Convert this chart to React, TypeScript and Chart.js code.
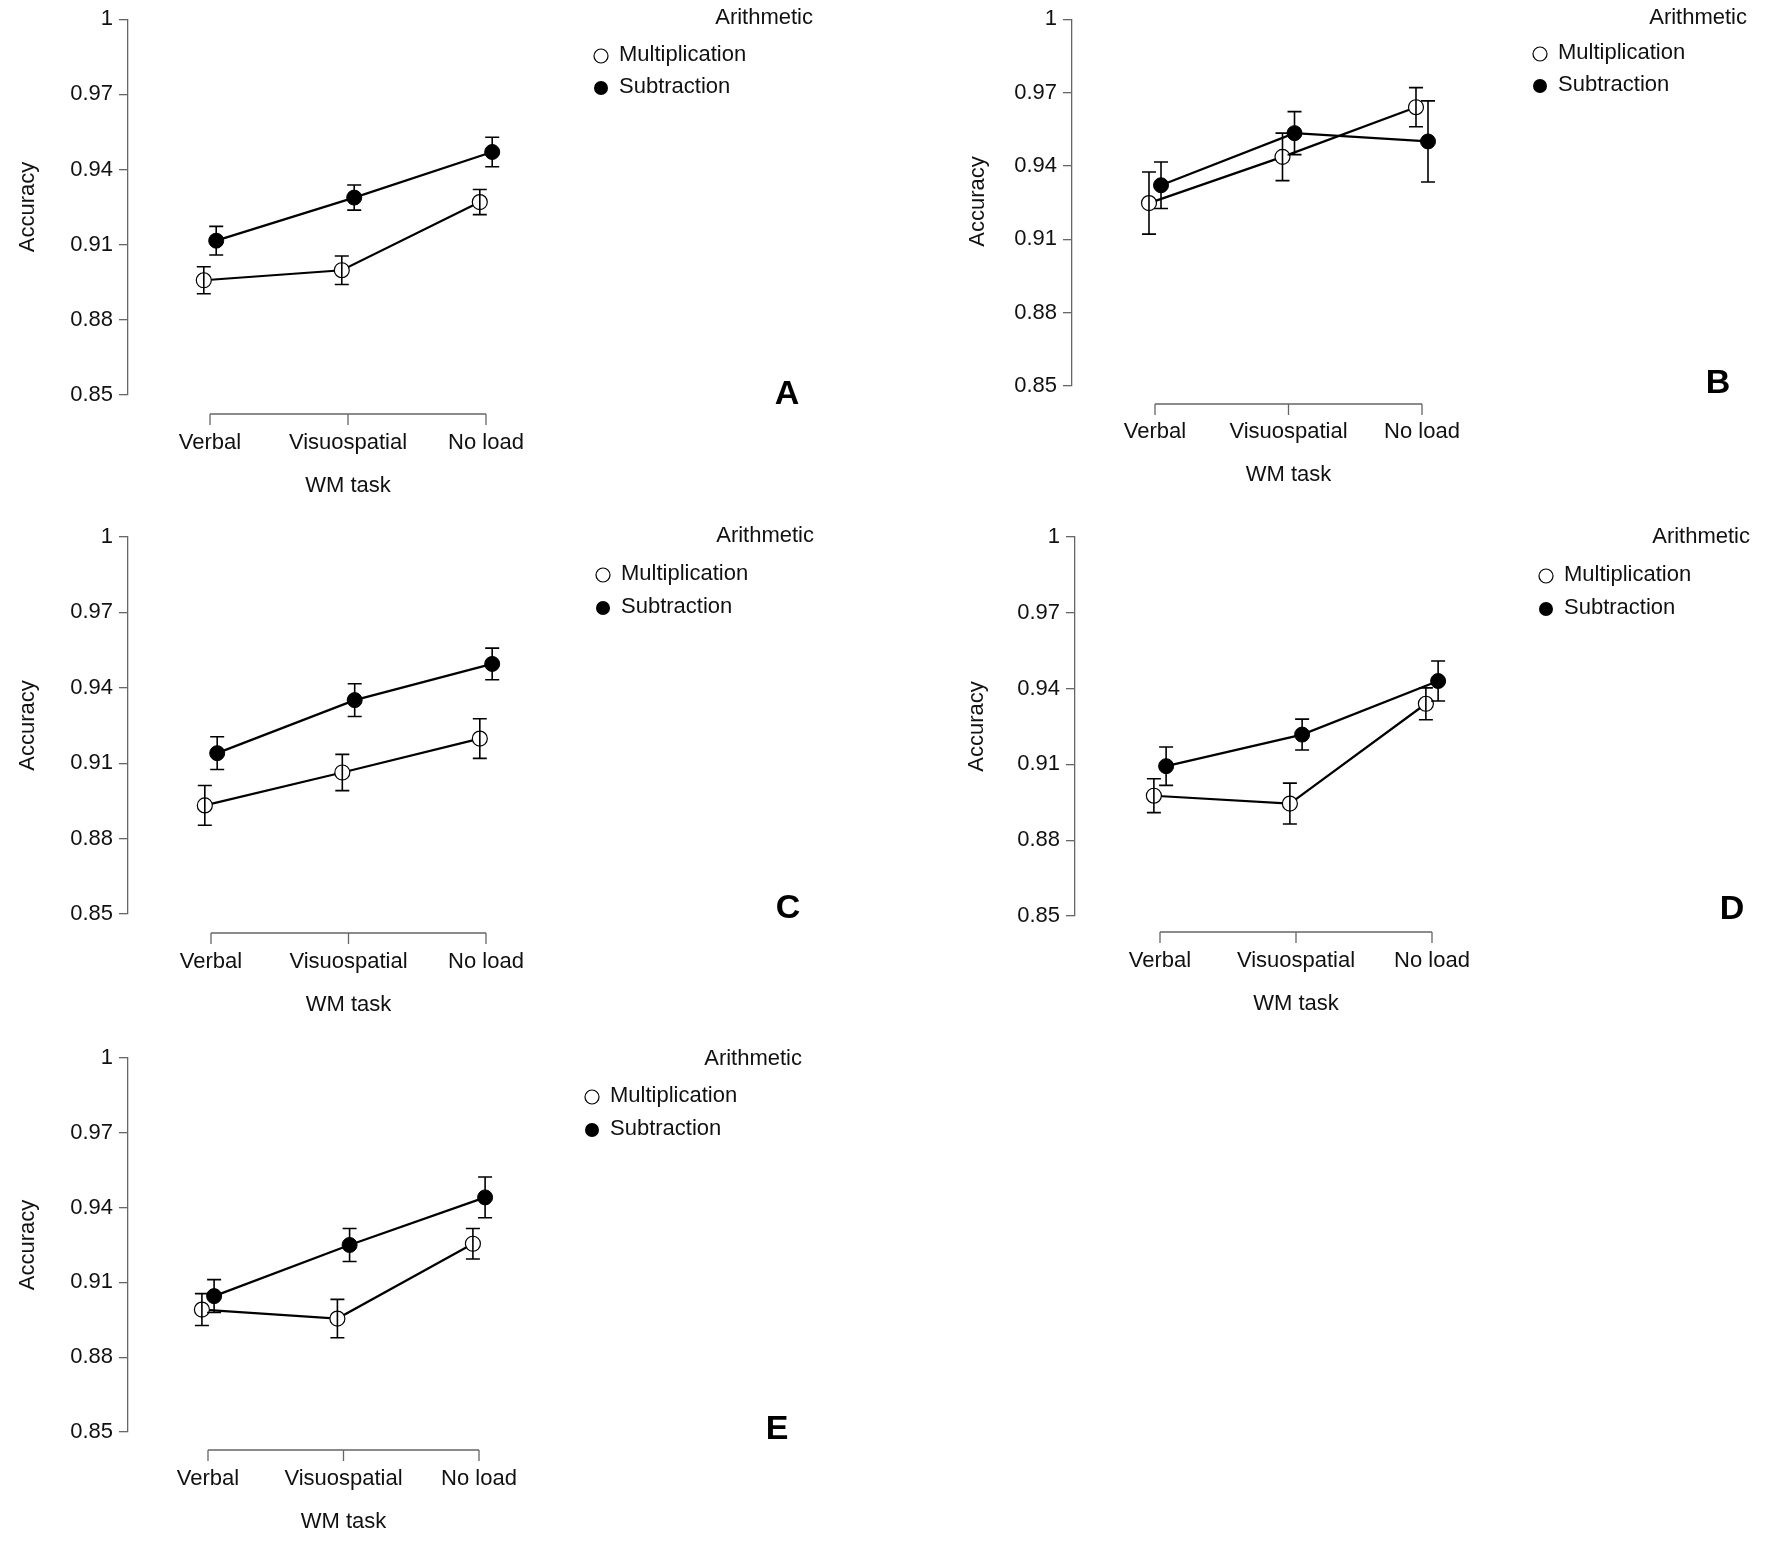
import React, { useEffect, useRef } from "react";
import { Chart, registerables } from "chart.js";
Chart.register(...registerables);

const categories = ["Verbal", "Visuospatial", "No load"];
const yTicks = [0.85, 0.88, 0.91, 0.94, 0.97, 1];

const multA = [0.8958, 0.8998, 0.927];
const multAErr = [0.0054, 0.0057, 0.005];
const subA = [0.9116, 0.9288, 0.947];
const subAErr = [0.0057, 0.005, 0.0059];

const multB = [0.9248, 0.9437, 0.964];
const multBErr = [0.0127, 0.0097, 0.008];
const subB = [0.9321, 0.9534, 0.95];
const subBErr = [0.0095, 0.0088, 0.0166];

const multC = [0.8932, 0.9063, 0.9198];
const multCErr = [0.0079, 0.0072, 0.0079];
const subC = [0.914, 0.9351, 0.9495];
const subCErr = [0.0065, 0.0065, 0.0063];

const multD = [0.8976, 0.8945, 0.934];
const multDErr = [0.0067, 0.0081, 0.0063];
const subD = [0.9093, 0.9218, 0.943];
const subDErr = [0.0076, 0.0061, 0.0079];

const multE = [0.8991, 0.8955, 0.9255];
const multEErr = [0.0064, 0.0077, 0.0061];
const subE = [0.9045, 0.925, 0.9441];
const subEErr = [0.0066, 0.0066, 0.0082];

const W = 1772, H = 1550;
const FONT = "'Liberation Sans', Arial, sans-serif";

const panels = [
  { letter: "A", mult: multA, multErr: multAErr, sub: subA, subErr: subAErr, axisX: 128, top: 19, bottom: 395, t0: 210, t2: 486, bracketY: 414, labelY: 443, wmY: 486, accX: 28, legRight: 813, arithY: 18, legX: 601, m1Y: 55, m2Y: 87, lx: 787, ly: 395 },
  { letter: "B", mult: multB, multErr: multBErr, sub: subB, subErr: subBErr, axisX: 1072, top: 17, bottom: 386, t0: 1155, t2: 1422, bracketY: 404, labelY: 432, wmY: 475, accX: 978, legRight: 1747, arithY: 18, legX: 1540, m1Y: 53, m2Y: 85, lx: 1718, ly: 384 },
  { letter: "C", mult: multC, multErr: multCErr, sub: subC, subErr: subCErr, axisX: 128, top: 537, bottom: 914, t0: 211, t2: 486, bracketY: 933, labelY: 962, wmY: 1005, accX: 28, legRight: 814, arithY: 536, legX: 603, m1Y: 574, m2Y: 607, lx: 788, ly: 909 },
  { letter: "D", mult: multD, multErr: multDErr, sub: subD, subErr: subDErr, axisX: 1075, top: 537, bottom: 916, t0: 1160, t2: 1432, bracketY: 932, labelY: 961, wmY: 1004, accX: 977, legRight: 1750, arithY: 537, legX: 1546, m1Y: 575, m2Y: 608, lx: 1732, ly: 910 },
  { letter: "E", mult: multE, multErr: multEErr, sub: subE, subErr: subEErr, axisX: 128, top: 1058, bottom: 1432, t0: 208, t2: 479, bracketY: 1450, labelY: 1479, wmY: 1522, accX: 28, legRight: 802, arithY: 1059, legX: 592, m1Y: 1096, m2Y: 1129, lx: 777, ly: 1430 },
];

const DODGE = 0.045;
const YW = 70;

function Panel({ p }: { p: any }) {
  const ref = useRef<HTMLCanvasElement>(null);
  useEffect(() => {
    const s = (p.t2 - p.t0) / 2;
    const rightExtra = 40;
    const xmin = -(p.t0 - p.axisX) / s;
    const xmax = 2 + rightExtra / s;
    const errs = [p.multErr, p.subErr];
    const plugin = {
      id: "extras",
      afterDatasetsDraw(chart: any) {
        const ctx = chart.ctx;
        const xs = chart.scales.x, ys = chart.scales.y;
        ctx.save();
        chart.data.datasets.forEach((ds: any, di: number) => {
          ds.data.forEach((pt: any, i: number) => {
            const e = errs[di][i];
            const px = xs.getPixelForValue(pt.x);
            const y1 = ys.getPixelForValue(pt.y + e), y2 = ys.getPixelForValue(pt.y - e);
            ctx.strokeStyle = "#000"; ctx.lineWidth = 1.6;
            ctx.beginPath();
            ctx.moveTo(px, y1); ctx.lineTo(px, y2);
            ctx.moveTo(px - 7, y1); ctx.lineTo(px + 7, y1);
            ctx.moveTo(px - 7, y2); ctx.lineTo(px + 7, y2);
            ctx.stroke();
          });
        });
        ctx.restore();
      },
      afterDraw(chart: any) {
        const ctx = chart.ctx;
        const xs = chart.scales.x;
        ctx.save();
        const px = categories.map((_, i) => xs.getPixelForValue(i));
        ctx.strokeStyle = "#666"; ctx.lineWidth = 1.3;
        ctx.beginPath();
        ctx.moveTo(px[0], p.bracketY); ctx.lineTo(px[2], p.bracketY);
        px.forEach((x) => { ctx.moveTo(x, p.bracketY); ctx.lineTo(x, p.bracketY + 11); });
        ctx.stroke();
        ctx.fillStyle = "#111";
        ctx.font = `22px ${FONT}`;
        ctx.textAlign = "center"; ctx.textBaseline = "middle";
        categories.forEach((c, i) => ctx.fillText(c, px[i], p.labelY));
        ctx.fillText("WM task", px[1], p.wmY);
        ctx.save();
        ctx.translate(p.accX, (p.top + p.bottom) / 2);
        ctx.rotate(-Math.PI / 2);
        ctx.fillText("Accuracy", 0, 0);
        ctx.restore();
        ctx.textAlign = "right";
        ctx.fillText("Arithmetic", p.legRight, p.arithY);
        ctx.textAlign = "left";
        ctx.fillText("Multiplication", p.legX + 18, p.m1Y);
        ctx.fillText("Subtraction", p.legX + 18, p.m2Y);
        ctx.lineWidth = 1.2; ctx.strokeStyle = "#000";
        ctx.beginPath(); ctx.arc(p.legX, p.m1Y + 1, 7, 0, Math.PI * 2);
        ctx.fillStyle = "#fff"; ctx.fill(); ctx.stroke();
        ctx.beginPath(); ctx.arc(p.legX, p.m2Y + 1, 7, 0, Math.PI * 2);
        ctx.fillStyle = "#000"; ctx.fill();
        ctx.font = `bold 34px ${FONT}`;
        ctx.textAlign = "center";
        ctx.fillText(p.letter, p.lx, p.ly);
        ctx.restore();
      },
    };
    const chart = new Chart(ref.current!, {
      type: "line",
      data: {
        datasets: [
          {
            label: "Multiplication",
            data: p.mult.map((v: number, i: number) => ({ x: i - DODGE, y: v })),
            borderColor: "#000", borderWidth: 2.2,
            pointBackgroundColor: "#fff", pointBorderColor: "#000", pointBorderWidth: 1.2,
            pointRadius: 7.5, clip: false as any,
          },
          {
            label: "Subtraction",
            data: p.sub.map((v: number, i: number) => ({ x: i + DODGE, y: v })),
            borderColor: "#000", borderWidth: 2.2,
            pointBackgroundColor: "#000", pointBorderColor: "#000", pointBorderWidth: 1,
            pointRadius: 7.5, clip: false as any,
          },
        ],
      },
      options: {
        animation: false,
        responsive: false,
        devicePixelRatio: 1,
        layout: { padding: { left: p.axisX - YW, top: p.top, bottom: H - p.bottom, right: W - (p.t2 + rightExtra) } },
        plugins: { legend: { display: false }, tooltip: { enabled: false } },
        scales: {
          x: { type: "linear", min: xmin, max: xmax, display: false },
          y: {
            type: "linear", min: 0.85, max: 1,
            afterFit: (sc: any) => { sc.width = YW; },
            afterBuildTicks: (sc: any) => { sc.ticks = yTicks.map((v) => ({ value: v })); },
            ticks: {
              font: { size: 22, family: FONT }, color: "#111", padding: 6,
              callback: (v: any) => (Math.abs(v - 1) < 1e-9 ? "1" : Number(v).toFixed(2)),
            },
            grid: { display: true, drawOnChartArea: false, tickLength: 9, color: "#666", lineWidth: 1.3 },
            border: { display: true, color: "#666", width: 1.3 },
          },
        },
      },
      plugins: [plugin],
    } as any);
    return () => chart.destroy();
  }, []);
  return <canvas ref={ref} width={W} height={H} style={{ position: "absolute", left: 0, top: 0, width: W, height: H }} />;
}

export default function App() {
  return (
    <div style={{ position: "absolute", left: 0, top: 0, width: W, height: H, background: "#fff" }}>
      {panels.map((p) => <Panel key={p.letter} p={p} />)}
    </div>
  );
}
